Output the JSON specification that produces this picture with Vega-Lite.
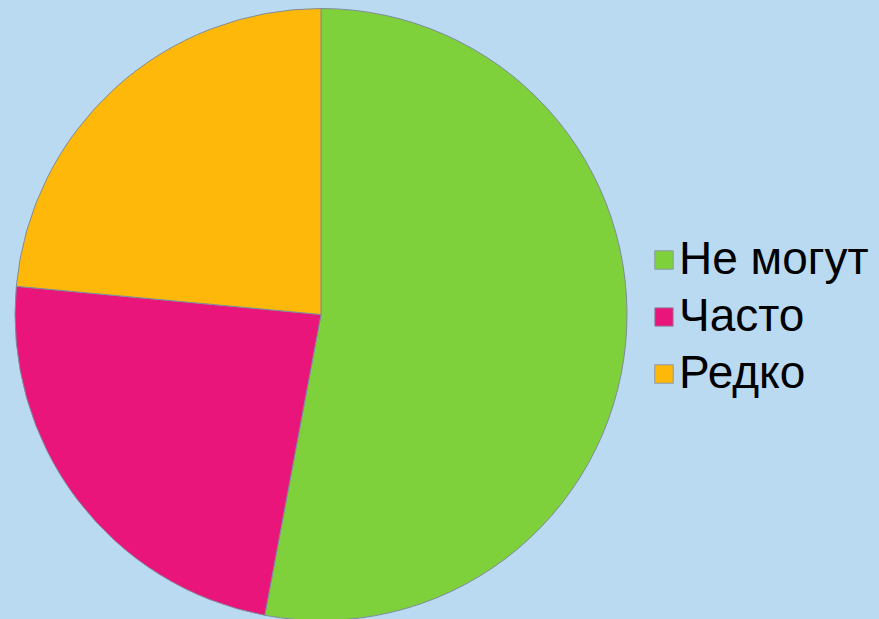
{
  "$schema": "https://vega.github.io/schema/vega-lite/v6.json",
  "autosize": {"type": "none"},
  "width": 642,
  "height": 609,
  "padding": {"left": 0, "top": 10, "right": 237, "bottom": 0},
  "background": "#badaf2",
  "config": {"view": {"stroke": null}, "font": "Liberation Sans"},
  "data": {
    "values": [
      {"category": "Не могут", "value": 9, "order": 1},
      {"category": "Часто", "value": 4, "order": 2},
      {"category": "Редко", "value": 4, "order": 3}
    ]
  },
  "mark": {"type": "arc", "radius": 306, "stroke": "#7f8c9c", "strokeWidth": 1},
  "encoding": {
    "theta": {"field": "value", "type": "quantitative", "stack": true},
    "order": {"field": "order", "type": "quantitative"},
    "color": {
      "field": "category",
      "type": "nominal",
      "scale": {"domain": ["Не могут", "Часто", "Редко"], "range": ["#7fd13b", "#ea157a", "#feb80a"]},
      "legend": {
        "title": null,
        "orient": "none",
        "legendX": 641,
        "legendY": 227,
        "symbolType": "square",
        "symbolSize": 340,
        "symbolStrokeColor": "#8a9aa8",
        "symbolStrokeWidth": 1,
        "symbolOpacity": 1,
        "labelFont": "Liberation Sans",
        "labelFontSize": 46,
        "labelColor": "#000000",
        "labelOffset": -8,
        "labelLimit": 400,
        "rowPadding": 11,
        "padding": 0
      }
    }
  }
}
